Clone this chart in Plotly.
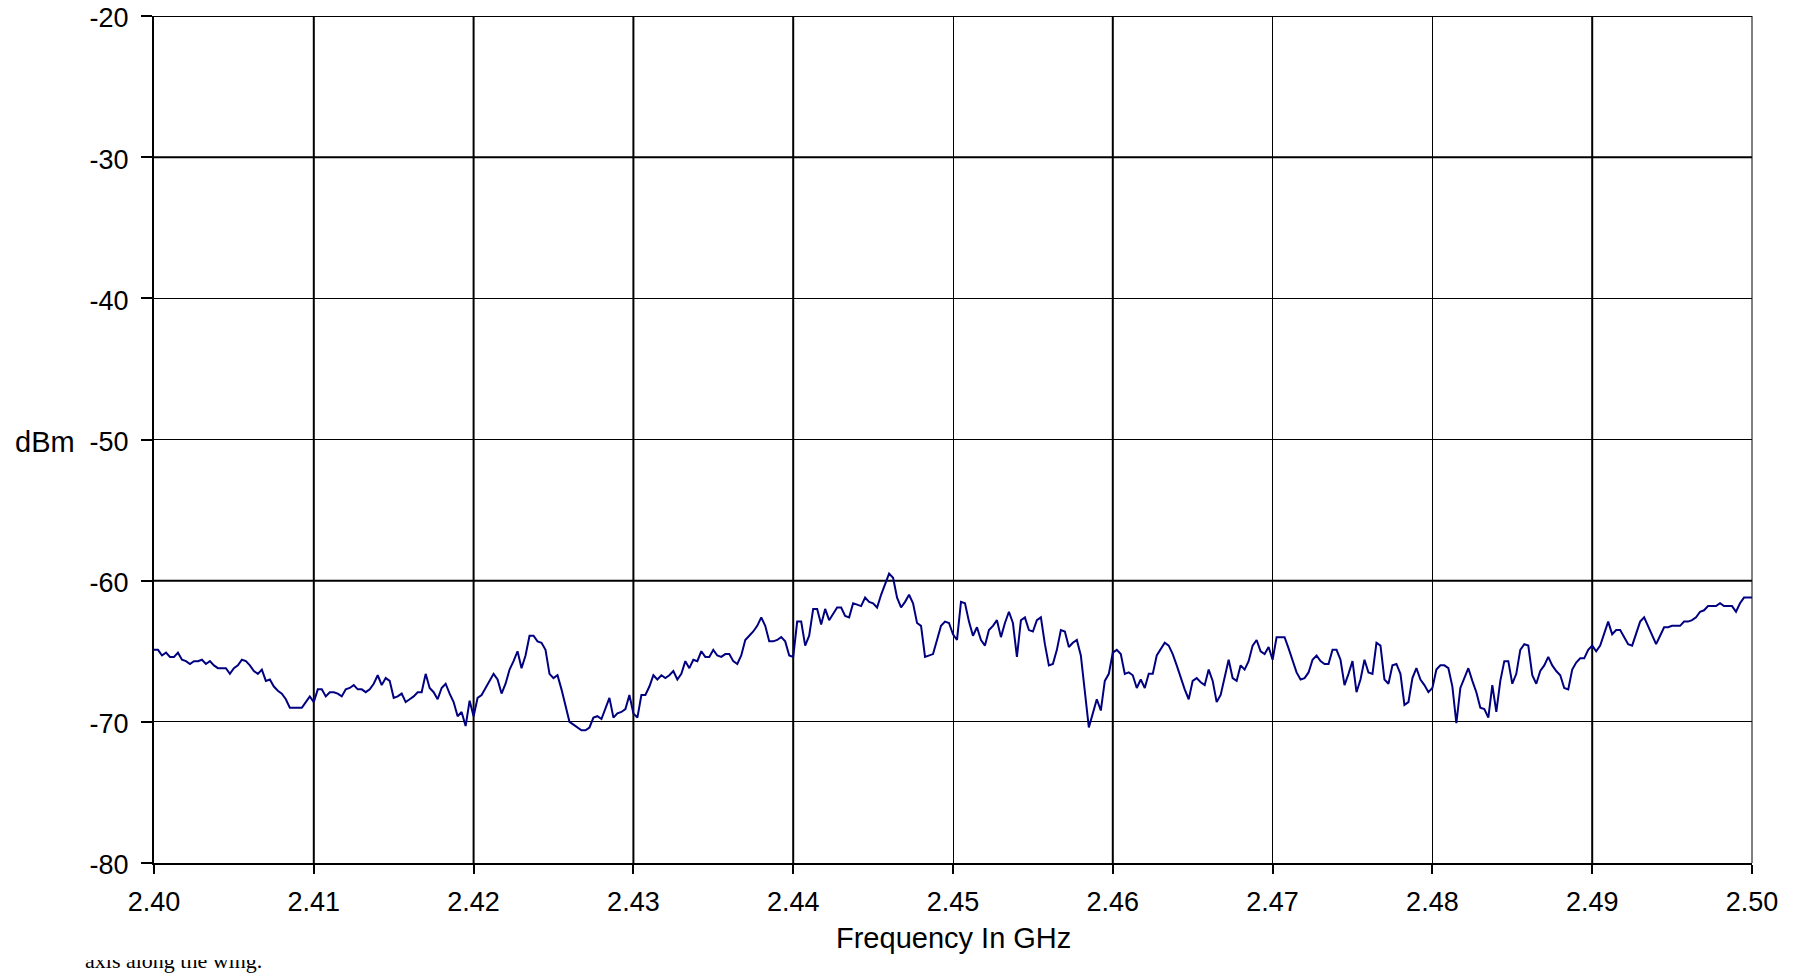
import numpy as np
import plotly.graph_objects as go

# ---------------- data ----------------
freq_start_ghz = 2.40
freq_stop_ghz = 2.50
n_points = 401

power_dbm = [
    # 2.400 - 2.410
    -64.9, -64.9, -65.3, -65.1, -65.4, -65.4, -65.1, -65.6, -65.7, -65.9,
    -65.7, -65.7, -65.6, -65.9, -65.7, -66.0, -66.2, -66.2, -66.2, -66.6,
    -66.2, -66.0, -65.6, -65.7, -66.0, -66.4, -66.6, -66.3, -67.1, -67.0,
    -67.5, -67.8, -68.0, -68.4, -69.0, -69.0, -69.0, -69.0, -68.6, -68.2,
    -68.6,
    # 2.410 - 2.420
    -67.7, -67.7, -68.2, -67.9, -67.9, -68.0, -68.2, -67.7, -67.6, -67.4,
    -67.7, -67.7, -67.9, -67.7, -67.3, -66.7, -67.4, -66.9, -67.1, -68.3,
    -68.2, -68.0, -68.6, -68.4, -68.2, -67.9, -67.9, -66.6, -67.6, -67.9,
    -68.4, -67.6, -67.3, -68.0, -68.6, -69.6, -69.3, -70.3, -68.5, -69.6,
    # 2.420 - 2.430
    -68.3, -68.1, -67.6, -67.1, -66.6, -67.0, -68.0, -67.3, -66.3, -65.7,
    -65.0, -66.2, -65.3, -63.9, -63.9, -64.3, -64.4, -64.9, -66.6, -66.9,
    -66.7, -67.7, -68.9, -70.0, -70.2, -70.4, -70.6, -70.6, -70.4, -69.7,
    -69.6, -69.8, -69.0, -68.3, -69.7, -69.4, -69.3, -69.1, -68.1, -69.4,
    # 2.430 - 2.440
    -69.7, -68.1, -68.1, -67.5, -66.7, -67.0, -66.7, -66.9, -66.7, -66.4,
    -67.0, -66.6, -65.7, -66.2, -65.6, -65.7, -65.0, -65.4, -65.4, -64.9,
    -65.3, -65.4, -65.2, -65.2, -65.7, -65.9, -65.3, -64.2, -63.9, -63.6,
    -63.2, -62.6, -63.2, -64.3, -64.3, -64.2, -64.0, -64.3, -65.3, -65.4,
    # 2.440 - 2.450
    -62.9, -62.9, -64.6, -63.9, -62.0, -62.0, -63.1, -62.0, -62.8, -62.3,
    -61.9, -61.9, -62.5, -62.6, -61.6, -61.7, -61.8, -61.2, -61.5, -61.6,
    -61.9, -61.0, -60.3, -59.5, -59.8, -61.2, -61.9, -61.5, -61.0, -61.6,
    -63.0, -63.2, -65.4, -65.3, -65.2, -64.2, -63.2, -62.9, -63.0, -63.8,
    # 2.450 - 2.460
    -64.2, -61.5, -61.6, -62.9, -63.9, -63.3, -64.2, -64.6, -63.5, -63.2,
    -62.8, -64.0, -63.0, -62.2, -63.0, -65.4, -62.8, -62.6, -63.5, -63.6,
    -62.8, -62.6, -64.5, -66.0, -65.9, -64.9, -63.5, -63.6, -64.7, -64.4,
    -64.2, -65.3, -68.0, -70.4, -69.4, -68.4, -69.2, -67.1, -66.6, -65.1,
    # 2.460 - 2.470
    -64.9, -65.2, -66.6, -66.5, -66.7, -67.6, -67.0, -67.6, -66.6, -66.6,
    -65.3, -64.8, -64.4, -64.6, -65.2, -66.0, -66.9, -67.7, -68.4, -67.1,
    -66.9, -67.2, -67.4, -66.3, -67.1, -68.6, -68.1, -66.8, -65.6, -66.9,
    -67.1, -66.0, -66.3, -65.7, -64.6, -64.2, -65.0, -65.2, -64.7, -65.6,
    # 2.470 - 2.480
    -64.0, -64.0, -64.0, -64.8, -65.6, -66.5, -67.0, -66.9, -66.5, -65.6,
    -65.3, -65.7, -65.9, -65.9, -64.9, -64.9, -65.6, -67.4, -66.6, -65.7,
    -67.9, -67.0, -65.6, -66.5, -66.6, -64.4, -64.6, -67.0, -67.3, -66.0,
    -65.9, -66.6, -68.8, -68.6, -66.9, -66.2, -67.0, -67.4, -67.9, -67.6,
    # 2.480 - 2.490
    -66.3, -66.0, -66.0, -66.2, -67.5, -70.1, -67.6, -66.9, -66.2, -67.1,
    -67.9, -69.0, -69.1, -69.7, -67.4, -69.3, -67.1, -65.7, -65.7, -67.3,
    -66.6, -64.9, -64.5, -64.6, -66.7, -67.3, -66.4, -66.0, -65.4, -66.0,
    -66.4, -66.7, -67.6, -67.7, -66.3, -65.8, -65.5, -65.5, -64.9, -64.6,
    # 2.490 - 2.500
    -65.0, -64.6, -63.8, -62.9, -63.8, -63.5, -63.5, -64.0, -64.5, -64.6,
    -63.8, -62.9, -62.6, -63.2, -63.8, -64.5, -63.9, -63.3, -63.3, -63.2,
    -63.2, -63.2, -62.9, -62.9, -62.8, -62.6, -62.2, -62.1, -61.8, -61.8,
    -61.8, -61.6, -61.8, -61.8, -61.8, -62.2, -61.6, -61.2, -61.2, -61.2,
]

x_tick_vals = [2.40, 2.41, 2.42, 2.43, 2.44, 2.45, 2.46, 2.47, 2.48, 2.49, 2.50]
x_tick_text = ["2.40", "2.41", "2.42", "2.43", "2.44", "2.45", "2.46", "2.47", "2.48", "2.49", "2.50"]
y_tick_vals = [-80, -70, -60, -50, -40, -30, -20]
y_tick_text = ["-80", "-70", "-60", "-50", "-40", "-30", "-20"]

thick_x_lines = [2.41, 2.42, 2.43, 2.44, 2.46, 2.49]
thick_y_lines = [-30, -60, -20]

x_title = "Frequency In GHz"
y_title = "dBm"
stray_text = "axis along the wing."

freq_ghz = np.linspace(freq_start_ghz, freq_stop_ghz, n_points)

# ---------------- figure ----------------
FONT = "Liberation Sans, Arial, Helvetica, sans-serif"
# page has an 8px body margin; figure coordinates below are page - 8
W, H = 1803, 969
L, T = 146, 8
PW, PH = 1598, 847
R = W - L - PW
B = H - T - PH


def paper_y(fig_px):
    return (T + PH - fig_px) / PH


def paper_x(fig_px):
    return (fig_px - L) / PW


fig = go.Figure()
fig.add_trace(go.Scatter(
    x=freq_ghz, y=power_dbm, mode="lines",
    line=dict(color="#000080", width=2),
    hoverinfo="x+y",
))

shapes = []
for xv in thick_x_lines:
    shapes.append(dict(type="line", xref="x", yref="paper", x0=xv, x1=xv, y0=0, y1=1,
                       line=dict(color="black", width=2), layer="below"))
for yv in thick_y_lines:
    shapes.append(dict(type="line", xref="paper", yref="y", x0=0, x1=1, y0=yv, y1=yv,
                       line=dict(color="black", width=2), layer="below"))
shapes.append(dict(type="line", xref="paper", yref="paper", x0=1, x1=1, y0=0, y1=1,
                   line=dict(color="black", width=1), layer="below"))

fig.update_layout(
    width=W, height=H,
    margin=dict(l=L, r=R, t=T, b=B, pad=0),
    paper_bgcolor="white", plot_bgcolor="white",
    showlegend=False,
    font=dict(family=FONT, color="black"),
    shapes=shapes,
    xaxis=dict(
        range=[freq_start_ghz, freq_stop_ghz],
        tickmode="array", tickvals=x_tick_vals, ticktext=x_tick_text,
        ticks="outside", ticklen=9, tickwidth=2, tickcolor="black",
        ticklabelstandoff=5, ticklabeloverflow="allow",
        tickfont=dict(size=27, family=FONT, color="black"),
        showgrid=True, gridcolor="black", gridwidth=1,
        showline=True, linecolor="black", linewidth=2,
        zeroline=False, automargin=False,
    ),
    yaxis=dict(
        range=[-80, -20],
        tickmode="array", tickvals=y_tick_vals, ticktext=y_tick_text,
        ticks="outside", ticklen=11, tickwidth=2, tickcolor="black",
        ticklabelstandoff=7, ticklabelshift=2, ticklabeloverflow="allow",
        tickfont=dict(size=27, family=FONT, color="black"),
        showgrid=True, gridcolor="black", gridwidth=1,
        showline=True, linecolor="black", linewidth=2,
        zeroline=False, automargin=False,
    ),
    annotations=[
        dict(text=x_title, xref="paper", yref="paper", x=0.5, y=paper_y(930),
             xanchor="center", yanchor="middle", showarrow=False,
             font=dict(size=29, family=FONT, color="black")),
        dict(text=y_title, xref="paper", yref="y", x=paper_x(5), y=-50,
             xanchor="left", yanchor="middle", yshift=-2, showarrow=False,
             font=dict(size=29, family=FONT, color="black")),
        dict(text=stray_text, xref="paper", yref="paper", x=paper_x(75),
             y=paper_y(967), xanchor="left", yanchor="bottom",
             height=13, valign="bottom", showarrow=False,
             font=dict(size=22, family="Liberation Serif, Times New Roman, serif", color="black")),
    ],
)

fig.write_html("out.html")
